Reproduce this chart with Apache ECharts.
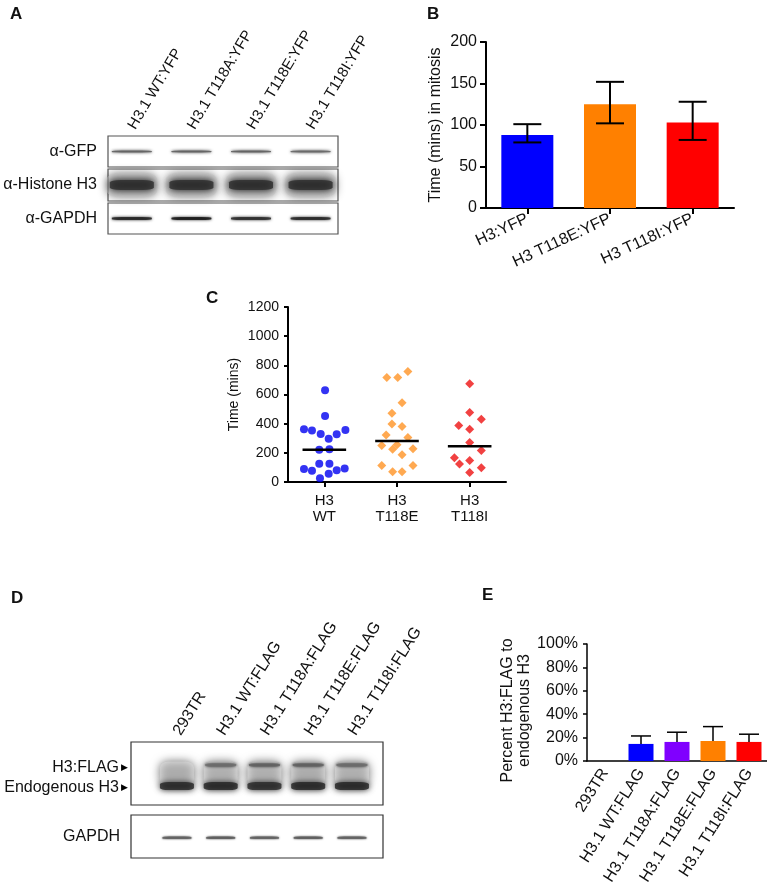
<!DOCTYPE html>
<html>
<head>
<meta charset="utf-8">
<script src="https://cdn.jsdelivr.net/npm/echarts@6/dist/echarts.min.js"></script>
<style>html,body{margin:0;padding:0;background:#fff}#c{width:767px;height:893px}</style>
</head>
<body>
<div id="c"></div>
<script>
// ---------- DATA ----------
// Panel A (western blot, YFP constructs)
const aLanes = ['H3.1 WT:YFP', 'H3.1 T118A:YFP', 'H3.1 T118E:YFP', 'H3.1 T118I:YFP'];
const aRows = ['α-GFP', 'α-Histone H3', 'α-GAPDH'];
const aGfpIntensity = [0.65, 0.65, 0.65, 0.62];
const aHistoneIntensity = [0.82, 0.82, 0.82, 0.82];
const aGapdhIntensity = [0.9, 0.95, 0.86, 0.88];

// Panel B (time in mitosis, bar + SD)
const bCategories = ['H3:YFP', 'H3 T118E:YFP', 'H3 T118I:YFP'];
const bMeans = [88, 125, 103];
const bLow = [79, 102, 82];
const bHigh = [101, 152, 128];
const bTicks = [0, 50, 100, 150, 200];

// Panel C (scatter of individual cells)
const cCategories = ['H3\nWT', 'H3\nT118E', 'H3\nT118I'];
const cWtMinutes = [630, 453, 362, 353, 357, 330, 328, 296, 221, 225, 125, 125, 89, 77, 80, 93, 57, 25];
const cWtJitter  = [0.01, 0.01, -0.28, -0.17, 0.29, -0.05, 0.17, 0.06, -0.07, 0.07, -0.07, 0.07, -0.28, -0.17, 0.17, 0.28, 0.06, -0.06];
const cEMinutes = [717, 717, 758, 544, 471, 398, 380, 323, 305, 250, 255, 225, 228, 187, 114, 114, 71, 71];
const cEJitter  = [-0.14, 0.01, 0.15, 0.07, -0.07, -0.07, 0.07, -0.15, 0.15, -0.21, 0, -0.06, 0.22, 0.07, -0.21, 0.22, -0.06, 0.07];
const cIMinutes = [674, 476, 387, 430, 362, 271, 216, 166, 148, 123, 98, 66];
const cIJitter  = [0, 0, -0.15, 0.16, 0, 0, 0.16, -0.21, 0, -0.14, 0.16, 0];
const cMeans = [221, 282, 246];
const cTicks = [0, 200, 400, 600, 800, 1000, 1200];

// Panel D (western blot, FLAG constructs)
const dLanes = ['293TR', 'H3.1 WT:FLAG', 'H3.1 T118A:FLAG', 'H3.1 T118E:FLAG', 'H3.1 T118I:FLAG'];
const dRowsTop = ['H3:FLAG', 'Endogenous H3'];
const dRowBottom = 'GAPDH';
const dFlagIntensity = [0, 0.55, 0.6, 0.6, 0.55];
const dEndoIntensity = [0.85, 0.86, 0.84, 0.86, 0.86];
const dSmearIntensity = [0.12, 0.1, 0.1, 0.12, 0.1];
const dGapdhIntensity = [0.6, 0.62, 0.6, 0.62, 0.6];

// Panel E (percent H3:FLAG to endogenous H3)
const eCategories = ['293TR', 'H3.1 WT:FLAG', 'H3.1 T118A:FLAG', 'H3.1 T118E:FLAG', 'H3.1 T118I:FLAG'];
const ePercent = [0, 14.6, 16.3, 17.1, 16.3];
const eUpper = [0, 21.4, 24.6, 29.4, 22.9];
const ePercentTicks = [0, 20, 40, 60, 80, 100];

// ---------- STYLE ----------
const FONT = '"Liberation Sans", Arial, Helvetica, sans-serif';
const bColors = ['#0000ff', '#ff8000', '#ff0000'];
const eColors = ['#0000ff', '#0000ff', '#8000ff', '#ff8000', '#ff0000'];
const cColors = ['#0000f0', '#ff9326', '#ee1111'];

const chart = echarts.init(document.getElementById('c'), null, {renderer: 'canvas'});

function gray(intensity, alpha) {
  const g = Math.round(250 * (1 - intensity));
  return 'rgba(' + g + ',' + g + ',' + g + ',' + (alpha == null ? 1 : alpha) + ')';
}
function bandSeries(xi, yi, intensities, yPos, size, blur, alpha) {
  return {
    type: 'scatter', xAxisIndex: xi, yAxisIndex: yi, silent: true,
    symbol: 'roundRect', symbolSize: size,
    data: intensities.map((v, i) => [i, yPos, v]).filter(d => d[2] > 0),
    itemStyle: {
      color: p => gray(p.data[2], alpha),
      shadowBlur: blur, shadowColor: p => gray(p.data[2], 0.8)
    }
  };
}
function errorBarSeries(xi, yi, data, half, width, lowerCap) {
  return {
    type: 'custom', xAxisIndex: xi, yAxisIndex: yi, silent: true, z: 5,
    data: data,
    renderItem: function (params, api) {
      const x = api.value(0), lo = api.value(1), hi = api.value(2);
      const pl = api.coord([x, lo]), ph = api.coord([x, hi]);
      const st = {stroke: '#000', lineWidth: width};
      const ch = [
        {type: 'line', shape: {x1: ph[0], y1: pl[1], x2: ph[0], y2: ph[1]}, style: st},
        {type: 'line', shape: {x1: ph[0] - half, y1: ph[1], x2: ph[0] + half, y2: ph[1]}, style: st}
      ];
      if (lowerCap) ch.push({type: 'line', shape: {x1: pl[0] - half, y1: pl[1], x2: pl[0] + half, y2: pl[1]}, style: st});
      return {type: 'group', children: ch};
    }
  };
}
const hiddenValueX = (g, min, max) => ({gridIndex: g, type: 'value', min: min, max: max, show: false});
const hiddenValueY = (g) => ({gridIndex: g, type: 'value', min: 0, max: 1, show: false});
function rowLabelY(g, values, names, margin, fs) {
  return {
    gridIndex: g, type: 'value', min: 0, max: 1,
    axisLine: {show: false}, axisTick: {show: false}, splitLine: {show: false},
    axisLabel: {
      customValues: values, margin: margin, fontSize: fs, color: '#111', fontFamily: FONT,
      formatter: function (v) {
        for (let i = 0; i < values.length; i++) if (Math.abs(values[i] - v) < 1e-6) return names[i];
        return '';
      },
      rich: {t: {fontSize: 9, color: '#000', padding: [0, 0, 0, 2]}}
    }
  };
}
const laneLabelX = (g, data, rot, fs) => ({
  gridIndex: g, type: 'category', position: 'top', data: data,
  axisLine: {show: false}, axisTick: {show: false}, splitLine: {show: false},
  axisLabel: {rotate: rot, margin: 8, fontSize: fs, interval: 0, color: '#111', fontFamily: FONT}
});
const titleStyle = {fontSize: 17, fontWeight: 'bold', color: '#111', fontFamily: FONT};
const axisLineBlack = (w) => ({show: true, lineStyle: {color: '#000', width: w}});
const boxGrid = (top, h, left, w, color) => ({left: left, top: top, width: w, height: h, show: true, borderColor: color, borderWidth: 1.2, backgroundColor: '#fff'});

const aXMin = -0.40, aXMax = 3.46;
const dXMin = -1.05, dXMax = 4.71;

const option = {
  animation: false,
  backgroundColor: '#fff',
  textStyle: {fontFamily: FONT, color: '#111'},
  title: [
    {text: 'A', left: 5, top: 1, textStyle: titleStyle},
    {text: 'B', left: 422, top: 1, textStyle: titleStyle},
    {text: 'C', left: 201, top: 285, textStyle: titleStyle},
    {text: 'D', left: 6, top: 585, textStyle: titleStyle},
    {text: 'E', left: 477, top: 582, textStyle: titleStyle}
  ],
  grid: [
    {left: 102, top: 136, width: 238, height: 31, show: false},   // 0 A lane labels
    boxGrid(136, 31, 108, 230, '#555'),                           // 1
    boxGrid(169, 32, 108, 230, '#555'),                           // 2
    boxGrid(203, 31, 108, 230, '#555'),                           // 3
    {left: 486, top: 42, width: 248, height: 166, show: false},   // 4 B
    {left: 288, top: 307, width: 218, height: 175, show: false},  // 5 C
    {left: 155, top: 742, width: 219, height: 63, show: false},   // 6 D lane labels
    boxGrid(742, 63, 131, 252, '#333'),                           // 7
    boxGrid(815, 43, 131, 252, '#333'),                           // 8
    {left: 587, top: 644, width: 180, height: 117, show: false}   // 9 E
  ],
  xAxis: [
    laneLabelX(0, aLanes, 59, 15),
    hiddenValueX(1, aXMin, aXMax),
    hiddenValueX(2, aXMin, aXMax),
    hiddenValueX(3, aXMin, aXMax),
    {
      gridIndex: 4, type: 'category', data: bCategories,
      axisLine: axisLineBlack(2),
      axisTick: {show: true, alignWithLabel: true, length: 6, lineStyle: {color: '#000', width: 2}},
      axisLabel: {rotate: 25, margin: 10, fontSize: 16, interval: 0, color: '#111'}
    },
    {
      gridIndex: 5, type: 'category', data: cCategories,
      axisLine: axisLineBlack(2),
      axisTick: {show: true, alignWithLabel: true, length: 5, lineStyle: {color: '#000', width: 2}},
      axisLabel: {margin: 11, fontSize: 15, lineHeight: 16, interval: 0, color: '#111'}
    },
    {gridIndex: 5, type: 'value', min: 0.5, max: 3.5, show: false},
    laneLabelX(6, dLanes, 58, 16),
    hiddenValueX(7, dXMin, dXMax),
    hiddenValueX(8, dXMin, dXMax),
    {
      gridIndex: 9, type: 'category', data: eCategories,
      axisLine: axisLineBlack(1.5),
      axisTick: {show: false},
      axisLabel: {rotate: 58, margin: 9, fontSize: 16, interval: 0, color: '#111'}
    }
  ],
  yAxis: [
    hiddenValueY(0),
    rowLabelY(1, [0.5], [aRows[0]], 11, 16),
    rowLabelY(2, [0.5], [aRows[1]], 11, 16),
    rowLabelY(3, [0.5], [aRows[2]], 11, 16),
    {
      gridIndex: 4, type: 'value', min: bTicks[0], max: bTicks[bTicks.length - 1], interval: 50,
      name: 'Time (mins) in mitosis', nameLocation: 'middle', nameGap: 42,
      nameTextStyle: {fontSize: 16, color: '#111'},
      axisLine: axisLineBlack(2),
      axisTick: {show: true, length: 6, lineStyle: {color: '#000', width: 2}},
      splitLine: {show: false},
      axisLabel: {margin: 9, fontSize: 16, color: '#111'}
    },
    {
      gridIndex: 5, type: 'value', min: cTicks[0], max: cTicks[cTicks.length - 1], interval: 200,
      name: 'Time (mins)', nameLocation: 'middle', nameGap: 47,
      nameTextStyle: {fontSize: 14, color: '#111'},
      axisLine: axisLineBlack(2),
      axisTick: {show: true, length: 4, lineStyle: {color: '#000', width: 2}},
      splitLine: {show: false},
      axisLabel: {margin: 9, fontSize: 14, color: '#111', formatter: v => String(v)}
    },
    hiddenValueY(6),
    rowLabelY(7, [0.6, 0.27], [dRowsTop[0] + '{t|▶}', dRowsTop[1] + '{t|▶}'], 3, 16),
    rowLabelY(8, [0.5], [dRowBottom], 11, 16),
    {
      gridIndex: 9, type: 'value', min: ePercentTicks[0], max: ePercentTicks[ePercentTicks.length - 1], interval: 20,
      name: 'Percent H3:FLAG to\nendogenous H3', nameLocation: 'middle', nameGap: 50,
      nameTextStyle: {fontSize: 16, color: '#111', lineHeight: 17, align: 'center', padding: [0, 16, 0, 0]},
      axisLine: axisLineBlack(1.5),
      axisTick: {show: true, length: 4, lineStyle: {color: '#000', width: 1.5}},
      splitLine: {show: false},
      axisLabel: {margin: 9, fontSize: 16, color: '#111', formatter: '{value}%'}
    }
  ],
  series: [
    // Panel A bands
    bandSeries(1, 1, aGfpIntensity, 0.5, [40, 2], 3),
    bandSeries(2, 2, aHistoneIntensity.map(v => v * 0.25), 0.5, [50, 24], 10, 0.6),
    bandSeries(2, 2, aHistoneIntensity, 0.5, [44, 10], 7),
    bandSeries(3, 3, aGapdhIntensity, 0.5, [40, 3], 3),
    // Panel B bars
    {
      type: 'bar', xAxisIndex: 4, yAxisIndex: 4, barWidth: 52,
      data: bMeans.map((v, i) => ({value: v, itemStyle: {color: bColors[i]}}))
    },
    errorBarSeries(4, 4, bCategories.map((c, i) => [i, bLow[i], bHigh[i]]), 14, 2, true),
    // Panel C scatter
    {
      type: 'scatter', xAxisIndex: 6, yAxisIndex: 5, symbol: 'circle', symbolSize: 8,
      itemStyle: {color: cColors[0]},
      data: cWtMinutes.map((m, i) => [1 + cWtJitter[i], m])
    },
    {
      type: 'scatter', xAxisIndex: 6, yAxisIndex: 5, symbol: 'diamond', symbolSize: 9,
      itemStyle: {color: cColors[1]},
      data: cEMinutes.map((m, i) => [2 + cEJitter[i], m])
    },
    {
      type: 'scatter', xAxisIndex: 6, yAxisIndex: 5, symbol: 'diamond', symbolSize: 9,
      itemStyle: {color: cColors[2]},
      data: cIMinutes.map((m, i) => [3 + cIJitter[i], m])
    },
    {
      type: 'custom', xAxisIndex: 6, yAxisIndex: 5, silent: true, z: 6,
      data: cMeans.map((m, i) => [i + 1, m]),
      renderItem: function (params, api) {
        const x = api.value(0), m = api.value(1);
        const p1 = api.coord([x - 0.3, m]), p2 = api.coord([x + 0.3, m]);
        return {type: 'line', shape: {x1: p1[0], y1: p1[1], x2: p2[0], y2: p2[1]}, style: {stroke: '#000', lineWidth: 2.5}};
      }
    },
    // Panel D bands
    bandSeries(8, 7, dSmearIntensity, 0.5, [34, 24], 10, 0.7),
    bandSeries(8, 7, dFlagIntensity, 0.635, [31, 3], 3),
    bandSeries(8, 7, dEndoIntensity, 0.30, [34, 8], 6),
    bandSeries(9, 8, dGapdhIntensity, 0.47, [29, 2.5], 2),
    // Panel E
    {
      type: 'bar', xAxisIndex: 10, yAxisIndex: 9, barWidth: 25,
      data: ePercent.map((v, i) => ({value: v, itemStyle: {color: eColors[i]}}))
    },
    errorBarSeries(10, 9, eCategories.map((c, i) => [i, ePercent[i], eUpper[i]]).filter(d => d[2] > 0), 10, 1.5, false)
  ]
};
chart.setOption(option);
</script>
</body>
</html>
